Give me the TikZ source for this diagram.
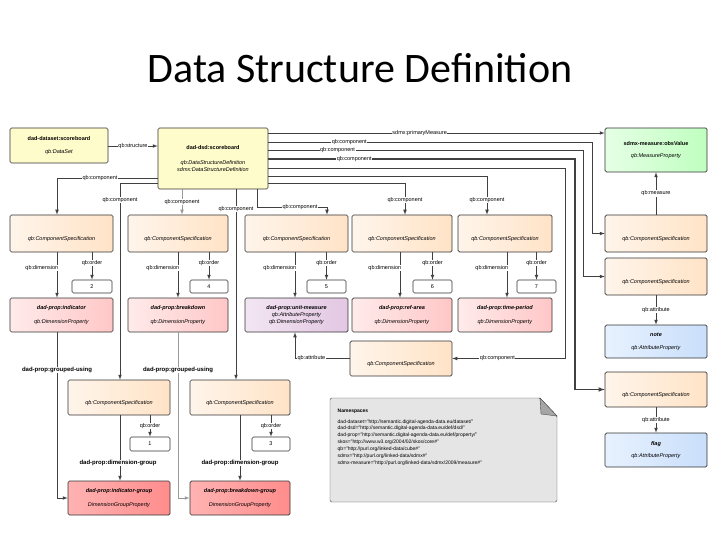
\documentclass[tikz,border=0pt]{standalone}
\usepackage{fontspec}
\usetikzlibrary{calc}
\setmainfont{Liberation Sans}
\newfontfamily\titlefont{Carlito}
\definecolor{lb1}{RGB}{232,242,255}
\definecolor{lb2}{RGB}{200,222,250}
\begin{document}
\begin{tikzpicture}[x=1pt,y=-1pt,
 every node/.style={font=\fontsize{5.5}{6.6}\selectfont,align=center,inner sep=0.5pt},
 bx/.style={draw=black!80,line width=0.7pt,rounded corners=1.5pt,inner sep=0pt},
 cs/.style={bx,left color=orange!8,right color=orange!22},
 yel/.style={bx,fill=yellow!20},
 pk/.style={bx,left color=red!8,right color=red!22},
 gp/.style={bx,left color=red!30,right color=red!45},
 pu/.style={bx,left color=violet!10,right color=violet!22},
 gr/.style={bx,left color=green!10,right color=green!25},
 bl/.style={bx,left color=lb1,right color=lb2},
 ob/.style={bx,fill=white,line width=0.6pt},
 ar/.style={draw=black!75,line width=0.7pt,-latex},
 lb/.style={fill=white,inner sep=0.6pt},
 gl/.style={lb,font=\bfseries\fontsize{6}{7}\selectfont}]
\newcommand\bx[7]{\node[#6,minimum width=#4-#2,minimum height=#5-#3] (#1) at ({(#2+#4)/2},{(#3+#5)/2}) {#7};}
\useasboundingbox (0,0) rectangle (720,540);
\node[font=\titlefont\fontsize{42}{46}\selectfont] (title) at (360,68) {Data Structure Definition};
% boxes
\bx{ds}{10}{128}{108}{163}{yel}{\textbf{dad-dataset:scoreboard}\\[6pt]\textit{qb:DataSet}}
\bx{dsd}{158}{128}{268}{189}{yel}{\textbf{dad-dsd:scoreboard}\\[8pt]\textit{qb:DataStructureDefinition}\\\textit{sdmx:DataStructureDefinition}}
\bx{obs}{605}{128}{707}{172}{gr}{\textbf{sdmx-measure:obsValue}\\[6pt]\textit{qb:MeasureProperty}}
\foreach \n/\a/\b in {cs1/10/113,cs2/128/228,cs3/245/348,cs4/352/452,cs5/458/552}{
 \bx{\n}{\a}{215}{\b}{252}{cs}{\\[8pt]\textit{qb:ComponentSpecification}}}
\bx{csR1}{605}{215}{707}{252}{cs}{\\[8pt]\textit{qb:ComponentSpecification}}
\bx{csR2}{605}{258}{707}{295}{cs}{\\[8pt]\textit{qb:ComponentSpecification}}
\bx{note}{605}{325}{707}{358}{bl}{\textbf{\textit{note}}\\[6pt]\textit{qb:AttributeProperty}}
\bx{csR3}{605}{372}{707}{407}{cs}{\\[8pt]\textit{qb:ComponentSpecification}}
\bx{flag}{605}{433}{707}{467}{bl}{\textbf{\textit{flag}}\\[6pt]\textit{qb:AttributeProperty}}
\foreach \n/\a/\b/\t in {o2/72/112/2,o4/190/228/4,o5/307/346/5,o6/413/452/6,o7/517/556/7}{
 \bx{\n}{\a}{280}{\b}{293}{ob}{\t}}
\bx{p1}{10}{298}{113}{332}{pk}{\textbf{\textit{dad-prop:indicator}}\\[8pt]\textit{qb:DimensionProperty}}
\bx{p2}{128}{298}{228}{332}{pk}{\textbf{\textit{dad-prop:breakdown}}\\[8pt]\textit{qb:DimensionProperty}}
\bx{p3}{245}{298}{348}{332}{pu}{\textbf{\textit{dad-prop:unit-measure}}\\\textit{qb:AttributeProperty}\\\textit{qb:DimensionProperty}}
\bx{p4}{352}{298}{452}{332}{pk}{\textbf{\textit{dad-prop:ref-area}}\\[8pt]\textit{qb:DimensionProperty}}
\bx{p5}{458}{298}{552}{332}{pk}{\textbf{\textit{dad-prop:time-period}}\\[8pt]\textit{qb:DimensionProperty}}
\bx{csB}{350}{341}{452}{376}{cs}{\\[8pt]\textit{qb:ComponentSpecification}}
\bx{csG1}{68}{380}{170}{415}{cs}{\\[8pt]\textit{qb:ComponentSpecification}}
\bx{csG2}{190}{380}{290}{415}{cs}{\\[8pt]\textit{qb:ComponentSpecification}}
\bx{o1}{130}{437}{170}{451}{ob}{1}
\bx{o3}{252}{437}{290}{451}{ob}{3}
\bx{g1}{68}{481}{170}{515}{gp}{\textbf{\textit{dad-prop:indicator-group}}\\[8pt]\textit{DimensionGroupProperty}}
\bx{g2}{190}{481}{290}{515}{gp}{\textbf{\textit{dad-prop:breakdown-group}}\\[8pt]\textit{DimensionGroupProperty}}
% namespaces note
\draw[draw=black!70,fill=black!10,rounded corners=1.5pt] (330,398) -- (540,398) -- (557,416) -- (557,502) -- (330,502) -- cycle;
\draw[draw=black!70,fill=black!35] (540,398) -- (541,414) -- (557,416) -- cycle;
\node[anchor=north west,align=left,font=\fontsize{5}{6.9}\selectfont] (ns) at (337,408) {\textbf{Namespaces}\\[4pt]
dad-dataset="http://semantic.digital-agenda-data.eu/dataset/"\\
dad-dsd="http://semantic.digital-agenda-data.eu/def/dsd/"\\
dad-prop="http://semantic.digital-agenda-data.eu/def/property/"\\
skos="http://www.w3.org/2004/02/skos/core\#"\\
qb="http://purl.org/linked-data/cube\#"\\
sdmx="http://purl.org/linked-data/sdmx\#"\\
sdmx-measure="http://purl.org/linked-data/sdmx/2009/measure\#"};
% connectors
\draw[ar] (ds.east|-0,146) -- node[lb]{qb:structure} (dsd.west|-0,146);
\draw[ar] (dsd.east|-0,133) -- node[lb,pos=0.45]{sdmx:primaryMeasure} (obs.west|-0,133);
\draw[ar] (dsd.east|-0,142) -- node[lb,pos=0.25]{qb:component} (592,142) |- (csR1.west);
\draw[ar] (dsd.east|-0,150) -- node[lb,pos=0.22]{qb:component} (583,150) |- (csR2.west);
\draw[ar,line width=1.1pt] (dsd.east|-0,159) -- node[lb,pos=0.28]{qb:component} (575,159) |- (csR3.west);
\draw[ar] (dsd.east|-0,168) -- (565,168) |- node[lb,pos=0.8]{qb:component} (csB.east);
\draw[ar] (dsd.east|-0,176) -| (cs5.north-|487,0);
\draw[ar] (dsd.east|-0,183) -| (cs4.north-|405,0);
\node[lb] at (487,200) {qb:component};
\node[lb] at (405,200) {qb:component};
\draw[ar] (dsd.south-|257,0) -- (257,207) -| (cs3.north-|327,0);
\node[lb] at (300,207) {qb:component};
\draw[ar,draw=black!40] (dsd.south-|182,0) -- node[lb,text=black]{qb:component} (cs2.north-|182,0);
\draw[ar] (dsd.south-|236,0) -- (csG2.north-|236,0);
\node[lb] at (236,209) {qb:component};
\draw[ar] (dsd.west|-0,183) -| (csG1.north-|120,0);
\node[lb] at (120,200) {qb:component};
\draw[ar] (dsd.west|-0,178) -| (cs1.north-|57,0);
\node[lb] at (100,178) {qb:component};
\draw[ar] (csR1.north) -- node[lb]{qb:measure} (obs.south);
\draw[ar] (csR2.south) -- node[lb]{qb:attribute} (note.north);
\draw[ar] (csR3.south) -- node[lb]{qb:attribute} (flag.north);
\draw[ar] (csB.west) -| node[lb,pos=0.35]{qb:attribute} (p3.south-|295,0);
\foreach \c/\p/\o/\dx in {cs1/p1/o2/57,cs2/p2/o4/178,cs3/p3/o5/295,cs4/p4/o6/400,cs5/p5/o7/507}{
 \draw[ar] (\c.south-|\dx,0) -- (\p.north-|\dx,0);
 \node[lb,anchor=east] at (\dx+2,268) {qb:dimension};
 \draw[ar] (\c.south-|\o.north) -- (\o.north);
 \node[lb] at ($(\o.north)+(0,-17)$) {qb:order};}
\draw[ar] (csG1.south-|o1.north) -- node[lb]{qb:order} (o1.north);
\draw[ar] (csG2.south-|o3.north) -- node[lb]{qb:order} (o3.north);
\draw[ar] (csG1.south-|120,0) -- (g1.north-|120,0);
\draw[ar] (csG2.south-|240,0) -- (g2.north-|240,0);
\node[gl] at (118,463) {dad-prop:dimension-group};
\node[gl] at (240,463) {dad-prop:dimension-group};
\draw[ar] (p1.south-|57,0) |- (g1.west);
\draw[ar,draw=black!40] (p2.south-|178,0) |- (g2.west);
\node[gl] at (57,370) {dad-prop:grouped-using};
\node[gl] at (178,370) {dad-prop:grouped-using};
\end{tikzpicture}
\end{document}
